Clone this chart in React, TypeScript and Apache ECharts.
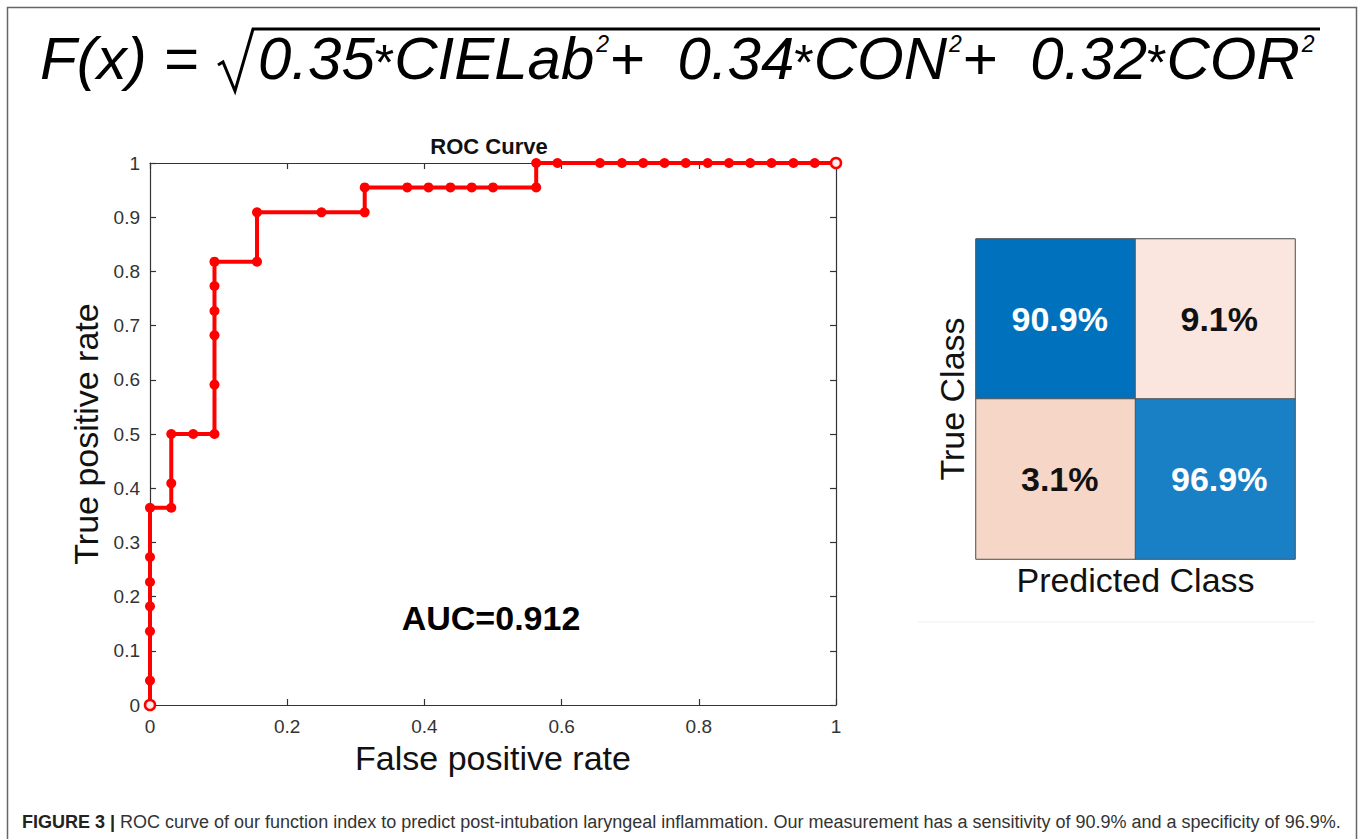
import React, { useEffect, useRef } from "react";
import * as echarts from "echarts";

// ROC curve points (false positive rate, true positive rate)
const fpr = [0, 0, 0, 0, 0, 0, 0, 0.031, 0.031, 0.031, 0.063, 0.094, 0.094, 0.094, 0.094, 0.094, 0.094, 0.156, 0.156, 0.25, 0.313, 0.313, 0.375, 0.406, 0.438, 0.469, 0.5, 0.563, 0.563, 0.594, 0.656, 0.688, 0.719, 0.75, 0.781, 0.813, 0.844, 0.875, 0.906, 0.938, 0.969, 1];
const tpr = [0, 0.045, 0.136, 0.182, 0.227, 0.273, 0.364, 0.364, 0.409, 0.5, 0.5, 0.5, 0.591, 0.682, 0.727, 0.773, 0.818, 0.818, 0.909, 0.909, 0.909, 0.955, 0.955, 0.955, 0.955, 0.955, 0.955, 0.955, 1, 1, 1, 1, 1, 1, 1, 1, 1, 1, 1, 1, 1, 1];

// Confusion matrix (percent)
const classes = ["Positive", "Negative"];
const predictedIdx = [0, 1, 0, 1];
const trueIdx = [0, 0, 1, 1];
const cellValues = [90.9, 9.1, 3.1, 96.9];
const cellColors = ["#0072BD", "#FAE6DE", "#F6D6C7", "#1A80C6"];
const cellTextColors = ["#ffffff", "#111111", "#111111", "#ffffff"];

// Formula terms
const weights = ["0.35", "0.34", "0.32"];
const features = ["CIELab", "CON", "COR"];

const aucText = "AUC=0.912";
const captionBold = "FIGURE 3 |";
const captionText =
  " ROC curve of our function index to predict post-intubation laryngeal inflammation. Our measurement has a sensitivity of 90.9% and a specificity of 96.9%.";

const FONT = "'Liberation Sans', Arial, Helvetica, sans-serif";
const NB = "\u00A0";

export default function App() {
  const ref = useRef<HTMLDivElement>(null);

  useEffect(() => {
    if (!ref.current) return;
    const chart = echarts.init(ref.current, undefined, { renderer: "svg" });

    const rocData = fpr.map((x, i) => {
      const isEnd = i === 0 || i === fpr.length - 1;
      return isEnd
        ? { value: [x, tpr[i]], itemStyle: { color: "#ffecec", borderColor: "#ff0000", borderWidth: 2.5 } }
        : { value: [x, tpr[i]] };
    });

    const heatData = cellValues.map((v, i) => ({
      value: [predictedIdx[i], trueIdx[i], v],
      label: { color: cellTextColors[i] },
    }));

    const pieces = cellValues.map((v, i) => ({ min: v - 0.05, max: v + 0.05, color: cellColors[i] }));

    const formulaRich = weights
      .map((w, i) => `${i > 0 ? `{m|+${NB}${NB}}` : ""}{m|${w}}{a|*}{m|${features[i]}}{s|2}`)
      .join("");

    const axisCommon = {
      type: "value" as const,
      min: 0,
      max: 1,
      splitLine: { show: false },
      axisLine: { show: true, onZero: false, lineStyle: { color: "#333", width: 1.2 } },
      axisTick: { show: true, inside: true, length: 6, lineStyle: { color: "#333", width: 1.2 } },
    };

    const option: any = {
      animation: false,
      backgroundColor: "#ffffff",
      textStyle: { fontFamily: FONT },
      visualMap: {
        type: "piecewise",
        show: false,
        seriesIndex: 1,
        dimension: 2,
        pieces,
      },
      grid: [
        { left: 150, top: 163, width: 686, height: 542 },
        { left: 976, top: 239, width: 319, height: 320, show: true, borderColor: "#888", borderWidth: 1 },
      ],
      xAxis: [
        {
          ...axisCommon,
          gridIndex: 0,
          position: "bottom",
          interval: 0.2,
          axisLabel: { fontSize: 19, color: "#333", margin: 12, fontFamily: FONT },
          name: "False positive rate",
          nameLocation: "middle",
          nameGap: 34,
          nameTextStyle: { fontSize: 34, color: "#111", fontFamily: FONT },
        },
        {
          ...axisCommon,
          gridIndex: 0,
          position: "top",
          interval: 0.2,
          axisLabel: { show: false },
        },
        {
          type: "category",
          gridIndex: 1,
          data: classes,
          position: "bottom",
          axisLine: { show: false },
          axisTick: { show: false },
          axisLabel: { show: false },
          splitLine: { show: false },
          name: "Predicted Class",
          nameLocation: "middle",
          nameGap: 4,
          nameTextStyle: { fontSize: 34, color: "#111", fontFamily: FONT, verticalAlign: "top" },
        },
      ],
      yAxis: [
        {
          ...axisCommon,
          gridIndex: 0,
          position: "left",
          interval: 0.1,
          axisLabel: { fontSize: 19, color: "#333", margin: 10, fontFamily: FONT },
          name: "True positive rate",
          nameLocation: "middle",
          nameRotate: 90,
          nameGap: 46,
          nameTextStyle: { fontSize: 34, color: "#111", fontFamily: FONT },
        },
        {
          ...axisCommon,
          gridIndex: 0,
          position: "right",
          interval: 0.1,
          axisLabel: { show: false },
        },
        {
          type: "category",
          gridIndex: 1,
          data: classes,
          inverse: true,
          position: "left",
          axisLine: { show: false },
          axisTick: { show: false },
          axisLabel: { show: false },
          splitLine: { show: false },
          name: "True Class",
          nameLocation: "middle",
          nameRotate: 90,
          nameGap: 7,
          nameTextStyle: { fontSize: 34, color: "#111", fontFamily: FONT },
        },
      ],
      series: [
        {
          type: "line",
          xAxisIndex: 0,
          yAxisIndex: 0,
          data: rocData,
          clip: false,
          symbol: "circle",
          symbolSize: 10,
          showAllSymbol: true,
          lineStyle: { color: "#ff0000", width: 4 },
          itemStyle: { color: "#ff0000" },
          z: 5,
        },
        {
          type: "heatmap",
          xAxisIndex: 2,
          yAxisIndex: 2,
          data: heatData,
          itemStyle: { borderColor: "#555", borderWidth: 1 },
          label: {
            show: true,
            fontSize: 34,
            fontWeight: "bold",
            fontFamily: FONT,
            offset: [4, 0],
            formatter: (p: any) => p.value[2].toFixed(1) + "%",
          },
        },
      ],
      graphic: [
        {
          type: "rect",
          silent: true,
          shape: { x: 7.5, y: 7.5, width: 1349, height: 860 },
          style: { fill: "none", stroke: "#666", lineWidth: 1.5 },
        },
        {
          type: "text",
          x: 40,
          y: 58,
          style: {
            text: "F(x) = ",
            font: `italic 60px ${FONT}`,
            fill: "#000",
            verticalAlign: "middle",
          },
        },
        {
          type: "polyline",
          shape: { points: [[218, 65], [223, 62], [235, 91], [253, 29], [1320, 29]] },
          style: { stroke: "#000", lineWidth: 3, fill: "none" },
        },
        {
          type: "text",
          x: 258,
          y: 28,
          style: {
            text: formulaRich,
            verticalAlign: "top",
            rich: {
              m: { font: `italic 60px ${FONT}`, fill: "#000", lineHeight: 60 },
              a: { font: `50px ${FONT}`, fill: "#000", verticalAlign: "bottom", padding: [0, 0, 0, 0] },
              s: { font: `italic 23px ${FONT}`, fill: "#000", verticalAlign: "top", padding: [4, 0, 0, 2] },
            },
          },
        },
        {
          type: "text",
          x: 489,
          y: 146,
          style: {
            text: "ROC Curve",
            font: `bold 22px ${FONT}`,
            fill: "#111",
            align: "center",
            verticalAlign: "middle",
          },
        },
        {
          type: "text",
          x: 491,
          y: 618,
          style: {
            text: aucText,
            font: `bold 34px ${FONT}`,
            fill: "#000",
            align: "center",
            verticalAlign: "middle",
          },
        },
        {
          type: "line",
          shape: { x1: 918, y1: 622, x2: 1315, y2: 622 },
          style: { stroke: "#eeeeee", lineWidth: 1 },
        },
        {
          type: "text",
          x: 22,
          y: 822,
          style: {
            text: `{b|${captionBold}}{r|${captionText}}`,
            verticalAlign: "middle",
            rich: {
              b: { font: `bold 18px ${FONT}`, fill: "#222" },
              r: { font: `18px ${FONT}`, fill: "#333" },
            },
          },
        },
      ],
    };

    chart.setOption(option);
    return () => chart.dispose();
  }, []);

  return (
    <div
      ref={ref}
      style={{ position: "absolute", left: 0, top: 0, width: 1360, height: 839, background: "#fff" }}
    />
  );
}
